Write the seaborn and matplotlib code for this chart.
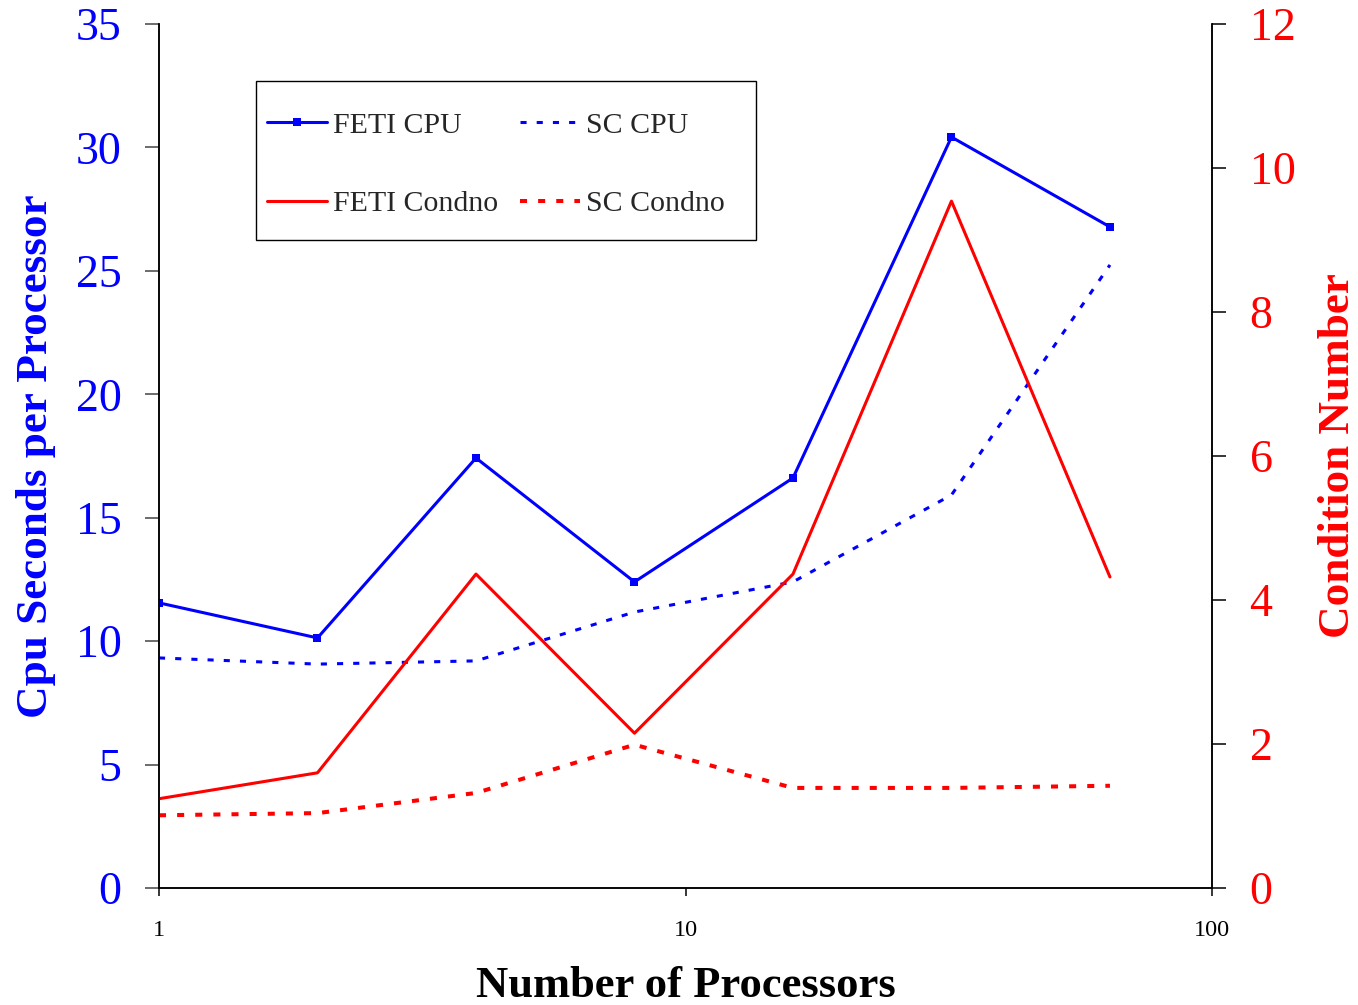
import matplotlib
matplotlib.use("Agg")
import matplotlib.pyplot as plt
from matplotlib.patches import Rectangle
from matplotlib.ticker import FixedLocator, NullLocator, FixedFormatter
import numpy as np
import pandas as pd
import seaborn as sns

# Scalability study: CPU time and condition number vs. processor count
processors = [1, 2, 4, 8, 16, 32, 64]
feti_cpu = [11.55, 10.13, 17.42, 12.40, 16.61, 30.42, 26.78]
sc_cpu = [9.32, 9.07, 9.20, 11.18, 12.40, 15.92, 25.24]
feti_condno = [1.24, 1.60, 4.36, 2.15, 4.36, 9.54, 4.32]
sc_condno = [1.01, 1.04, 1.32, 1.99, 1.39, 1.39, 1.42]

x_ticks = [1, 10, 100]
x_tick_labels = ["1", "10", "100"]
cpu_ticks = [0, 5, 10, 15, 20, 25, 30, 35]
cond_ticks = [0, 2, 4, 6, 8, 10, 12]

df = pd.DataFrame({
    "processors": processors,
    "feti_cpu": feti_cpu,
    "sc_cpu": sc_cpu,
    "feti_condno": feti_condno,
    "sc_condno": sc_condno,
})

sns.set_theme(style="ticks")
plt.rcParams["font.family"] = ["Liberation Serif", "DejaVu Serif"]

BLUE = "#0000ff"
RED = "#ff0000"
W, H = 1358, 1005

fig = plt.figure(figsize=(W / 100, H / 100), dpi=100)
ax = fig.add_axes([159 / W, 117 / H, (1212 - 159) / W, (888 - 24) / H])
ax2 = ax.twinx()

lw = 2.2
blue_dash = (0, (2.0, 3.3))
red_lw = 2.9
red_dash = (0, (1.75, 2.75))

sns.lineplot(data=df, x="processors", y="feti_cpu", ax=ax, color=BLUE, lw=lw,
             marker="s", markersize=6, markeredgewidth=0, label="FETI CPU", legend=False)
sns.lineplot(data=df, x="processors", y="sc_cpu", ax=ax, color=BLUE, lw=lw,
             linestyle=blue_dash, label="SC CPU", legend=False)
sns.lineplot(data=df, x="processors", y="feti_condno", ax=ax2, color=RED, lw=lw,
             label="FETI Condno", legend=False)
sns.lineplot(data=df, x="processors", y="sc_condno", ax=ax2, color=RED, lw=red_lw,
             linestyle=red_dash, label="SC Condno", legend=False)

for a in (ax, ax2):
    a.set_xscale("log")
    a.set_xlim(1, 100)
    a.xaxis.set_major_locator(FixedLocator(x_ticks))
    a.xaxis.set_minor_locator(NullLocator())
    a.spines["top"].set_visible(False)
    for s in a.spines.values():
        s.set_color("black")
        s.set_linewidth(1.1)

ax.set_ylim(0, 35)
ax2.set_ylim(0, 12)
ax.yaxis.set_major_locator(FixedLocator(cpu_ticks))
ax2.yaxis.set_major_locator(FixedLocator(cond_ticks))
ax.yaxis.set_minor_locator(NullLocator())
ax2.yaxis.set_minor_locator(NullLocator())

ax.xaxis.set_major_formatter(FixedFormatter(x_tick_labels))
ax.tick_params(axis="x", direction="out", length=6, width=1.1, color="black",
               labelsize=17.5, labelcolor="black", pad=17)
ax2.tick_params(axis="x", length=0, labelbottom=False)
ax.tick_params(axis="y", direction="out", length=10, width=1.1, color="#444444",
               labelsize=33, labelcolor=BLUE, pad=17)
ax2.tick_params(axis="y", direction="out", length=10, width=1.1, color="black",
                labelsize=33, labelcolor=RED, pad=17)

ax.set_xlabel("Number of Processors", fontsize=32, fontweight="bold", color="black", labelpad=18)
ax.set_ylabel("Cpu Seconds per Processor", fontsize=32.5, fontweight="bold", color=BLUE, labelpad=14)
ax2.set_ylabel("Condition Number", fontsize=32.5, fontweight="bold", color=RED,
               rotation=90, labelpad=16)

ax.grid(False)
ax2.grid(False)

# Legend: two columns inside a plain rectangular box
h1, l1 = ax.get_legend_handles_labels()
h2, l2 = ax2.get_legend_handles_labels()
handles = [h1[0], h2[0], h1[1], h2[1]]
labels = [l1[0], l2[0], l1[1], l2[1]]
leg = fig.legend(handles, labels, ncol=2, loc="center left",
                 bbox_to_anchor=(267 / W, 1 - 164.5 / H), bbox_transform=fig.transFigure,
                 fontsize=21.5, frameon=False,
                 borderaxespad=0, borderpad=0, labelspacing=1.72, handlelength=2.0,
                 handletextpad=0.2, columnspacing=0.75)
fig.add_artist(Rectangle((256 / W, 1 - 240 / H), 500 / W, 159 / H,
                         transform=fig.transFigure, fill=False,
                         edgecolor="black", linewidth=1.0, zorder=5))

fig.savefig("out.png", dpi=100)
